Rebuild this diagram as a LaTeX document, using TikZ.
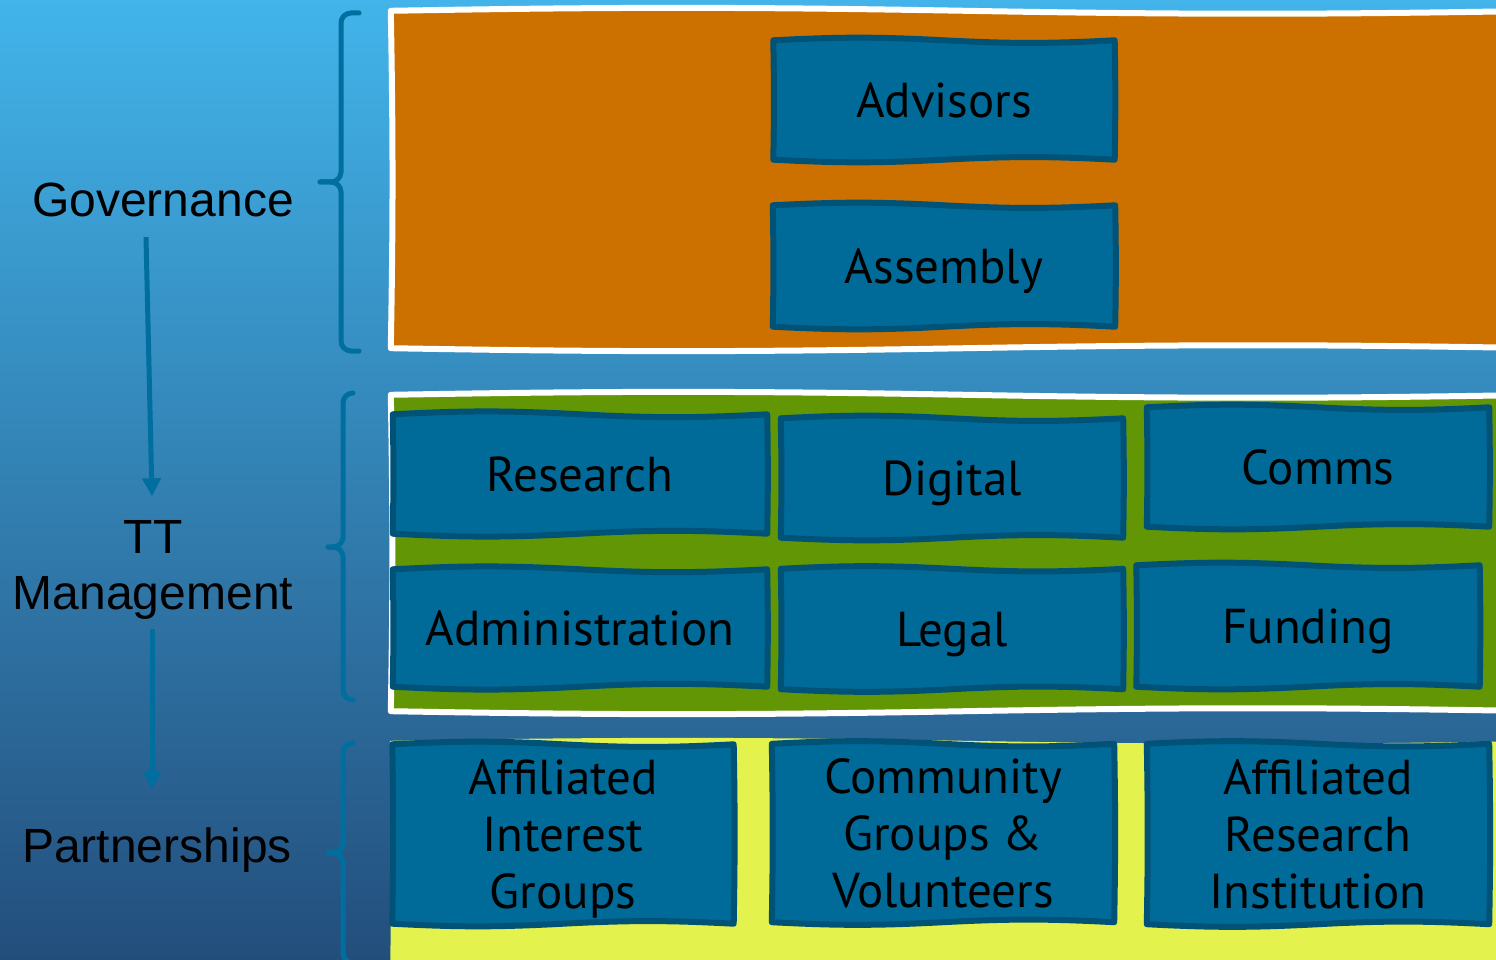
\documentclass[tikz,border=0pt]{standalone}
\usepackage{fontspec}
\setmainfont{PT Sans}
\newfontfamily\labelfont{Liberation Sans}
\usetikzlibrary{arrows.meta,backgrounds}

\definecolor{skytop}{RGB}{66,180,234}
\definecolor{skybot}{RGB}{35,78,124}
\definecolor{govorange}{RGB}{204,112,0}
\definecolor{mgmtgreen}{RGB}{98,150,5}
\definecolor{partyellow}{RGB}{227,242,76}
\definecolor{unitfill}{RGB}{0,107,153}
\definecolor{unitline}{RGB}{0,82,119}
\definecolor{linkblue}{RGB}{0,110,158}

% hand drawn outline round a node: #1 bend angle, #2 style, #3 node
\newcommand{\handbox}[3][3]{%
  \path[#2] (#3.north west) to[bend left=#1] (#3.north) to[bend right=#1] (#3.north east)
    to[bend left=1] (#3.south east) to[bend right=#1] (#3.south)
    to[bend left=#1] (#3.south west) to[bend right=1] cycle;}

\begin{document}
\begin{tikzpicture}[x=1pt,y=-1pt,
    unit/.style={inner sep=0pt, align=center, text depth=0pt, font=\fontsize{49}{57}\selectfont},
    unitshape/.style={draw=unitline, fill=unitfill, line width=6pt, line join=round},
    layer/.style={inner sep=0pt},
    panelshape/.style={draw=white, line width=6pt, line join=round},
    tier/.style={inner sep=0pt, align=center, font=\labelfont\fontsize{48}{56}\selectfont},
    flow/.style={draw=linkblue, line width=5pt, -{Triangle[width=18pt,length=18pt]}},
    brace/.style={draw=linkblue, line width=5pt, rounded corners=10pt, line cap=round}]
    \useasboundingbox (0,0) rectangle (1496,960);
    \clip (0,0) rectangle (1496,960);

    % layers
    \node[layer, minimum width=1149pt, minimum height=337pt] (govlayer) at (965.5,179.5) {};
    \node[layer, minimum width=1149pt, minimum height=316pt] (mgmtlayer) at (965.5,553) {};
    \node[layer, minimum width=1150pt, minimum height=249pt] (partlayer) at (965,865.5) {};

    % braces
    \draw[brace] (320,182) -- (341,182) |- (359,13);
    \draw[brace] (320,182) -- (341,182) |- (359,351);
    \draw[brace] (328,547) -- (343,547) |- (353,393);
    \draw[brace] (328,547) -- (343,547) |- (353,700);
    \draw[brace] (328,853) -- (343,853) |- (353,743);
    \draw[brace] (328,853) -- (343,853) |- (353,963);

    % tier labels
    \node[tier] (gov) at (163,200) {Governance};
    \node[tier] (mgmt) at (153,570) {TT\\Management};
    \node[tier] (part) at (157,850) {Partnerships};

    \draw[flow] ([xshift=-17pt,yshift=-20pt]gov.south) -- ([xshift=-1pt,yshift=24pt]mgmt.north);
    \draw[flow] ([xshift=-1pt,yshift=-9pt]mgmt.south) -- ([xshift=-5pt,yshift=38pt]part.north);

    % governance
    \node[unit, minimum width=341pt, minimum height=119pt] (advisors) at (944,100) {Advisors};
    \node[unit, minimum width=342pt, minimum height=121pt] (assembly) at (944,266) {Assembly};

    % management
    \node[unit, minimum width=374pt, minimum height=119pt] (research) at (580,474) {Research};
    \node[unit, minimum width=342pt, minimum height=119pt] (digital) at (952,478) {Digital};
    \node[unit, minimum width=342pt, minimum height=119pt] (comms) at (1318,467) {Comms};
    \node[unit, minimum width=374pt, minimum height=117pt] (admin) at (580,628) {Administration};
    \node[unit, minimum width=342pt, minimum height=120pt] (legal) at (952,629) {Legal};
    \node[unit, minimum width=343pt, minimum height=121pt] (funding) at (1308,626) {Funding};

    % partnerships
    \node[unit, minimum width=341pt, minimum height=179pt] (interest) at (563,834) {Affiliated\\Interest\\Groups};
    \node[unit, minimum width=342pt, minimum height=178pt] (community) at (943,833) {Community\\Groups \&\\Volunteers};
    \node[unit, minimum width=342pt, minimum height=180pt] (institution) at (1318,834) {Affiliated\\Research\\Institution};

    \begin{scope}[on background layer]
        \shade[top color=skytop, bottom color=skybot] (0,0) rectangle (1496,960);
        \handbox[1]{panelshape, fill=govorange}{govlayer}
        \handbox[1]{panelshape, fill=mgmtgreen}{mgmtlayer}
        \handbox[1]{fill=partyellow}{partlayer}
        \foreach \u in {advisors,assembly,research,digital,comms,admin,legal,funding,interest,community,institution}
            {\handbox{unitshape}{\u}}
    \end{scope}
\end{tikzpicture}
\end{document}
